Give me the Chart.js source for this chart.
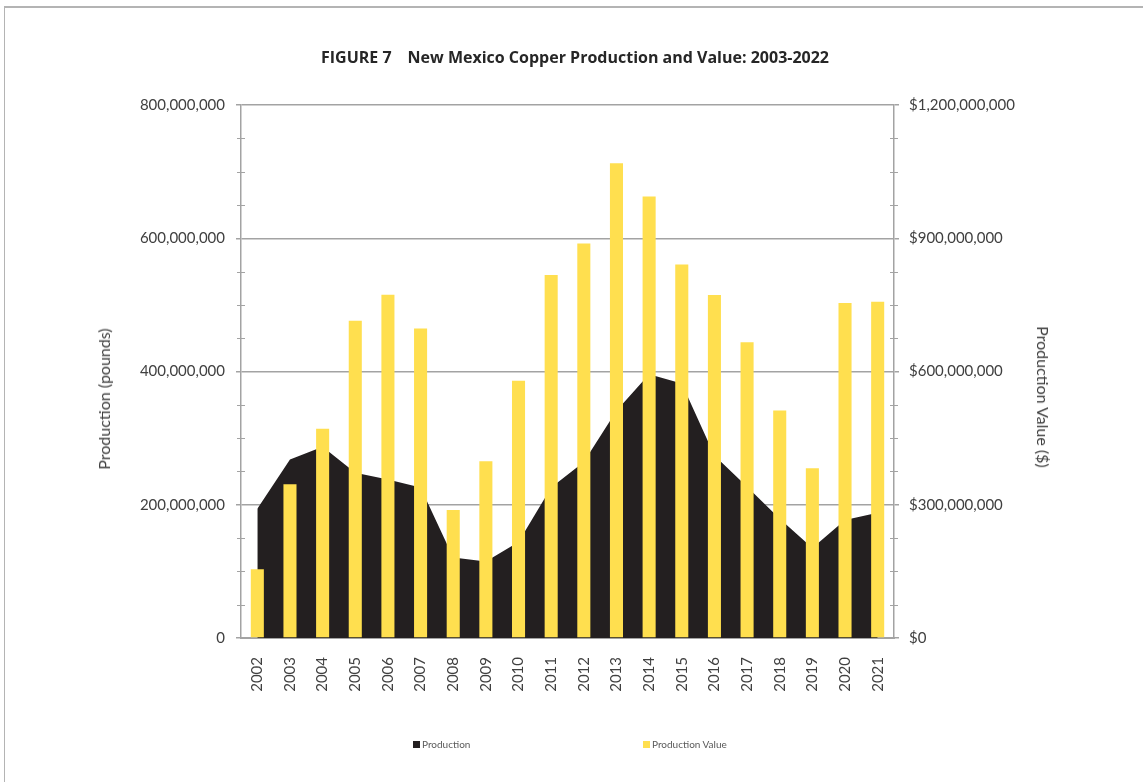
<!DOCTYPE html>
<html>
<head>
<meta charset="utf-8">
<title>New Mexico Copper Production and Value</title>
<script src="https://cdn.jsdelivr.net/npm/chart.js@4.4.1/dist/chart.umd.min.js"></script>
<style>
  html, body { margin: 0; padding: 0; background: #fff; }
  #page { position: relative; width: 1143px; height: 782px; overflow: hidden; font-family: Lato, "Open Sans", sans-serif; }
  #frame { position: absolute; left: 4px; top: 6px; width: 1150px; height: 800px; border-top: 2px solid #b4b4b4; border-left: 1px solid #b4b4b4; }
  #chart { position: absolute; left: 0; top: 0; }
  #title { position: absolute; top: 46px; left: 321px; font-family: "Open Sans", Lato, sans-serif; font-weight: bold; font-size: 16px; color: #262626; white-space: nowrap; }
  #title .gap { display: inline-block; width: 16px; }
  .axis-title { position: absolute; font-size: 16px; color: #404040; white-space: nowrap; line-height: 18px; }
  .legend { position: absolute; top: 737px; font-size: 10px; color: #595959; white-space: nowrap; line-height: 14px; }
  .legend i { display: inline-block; width: 7px; height: 7px; margin-right: 2px; vertical-align: 0px; }
</style>
</head>
<body>
<div id="page">
  <div id="frame"></div>
  <canvas id="chart" width="1143" height="782"></canvas>
  <div id="title">FIGURE 7<span class="gap"></span>New Mexico Copper Production and Value: 2003-2022</div>
  <div class="axis-title" style="left:104px; top:399px; transform: translate(-50%,-50%) rotate(-90deg);">Production (pounds)</div>
  <div class="axis-title" style="left:1043px; top:397px; transform: translate(-50%,-50%) rotate(90deg);">Production Value ($)</div>
  <div class="legend" style="left:413px"><i style="background:#231f20"></i>Production</div>
  <div class="legend" style="left:643px"><i style="background:#ffdf4f"></i>Production Value</div>
</div>
<script>
// Calendar years on the category axis
const years = ['2002','2003','2004','2005','2006','2007','2008','2009','2010','2011',
               '2012','2013','2014','2015','2016','2017','2018','2019','2020','2021'];

// Copper production, pounds
const productionPounds = [
  194e6, 268e6, 287e6, 248e6, 238e6, 226e6, 121e6, 115e6, 144e6, 226e6,
  264e6, 341e6, 396e6, 382e6, 274e6, 227e6, 179e6, 135e6, 177e6, 188e6
];

// Production value, dollars
const productionValue = [
  155e6, 346e6, 471e6, 714e6, 773e6, 697e6, 288e6, 398e6, 579e6, 817e6,
  888e6, 1069e6, 994e6, 841e6, 772e6, 666e6, 512e6, 382e6, 754e6, 757e6
];

// Axis ranges and steps
const poundsAxis = { min: 0, max: 800e6, step: 200e6, minorDivisions: 4 };
const dollarAxis = { min: 0, max: 1200e6, step: 300e6, minorDivisions: 4 };

const AXIS_GRAY = '#a3a3a3';
const TEXT_GRAY = '#404040';
const FONT = { family: 'Lato, "Open Sans", sans-serif', size: 15 };

// Minor tick marks that straddle each vertical axis line
const minorTicks = {
  id: 'minorTicks',
  afterDatasetsDraw(chart) {
    const ctx = chart.ctx;
    ctx.save();
    ctx.strokeStyle = AXIS_GRAY;
    ctx.lineWidth = 1;
    [['y', poundsAxis], ['y1', dollarAxis]].forEach(([id, cfg]) => {
      const scale = chart.scales[id];
      const x = id === 'y' ? scale.right : scale.left;
      const minor = cfg.step / cfg.minorDivisions;
      for (let v = cfg.min + minor; v < cfg.max; v += minor) {
        if (Math.abs(v / cfg.step - Math.round(v / cfg.step)) < 1e-6) continue;
        const py = Math.round(scale.getPixelForValue(v)) + 0.5;
        ctx.beginPath();
        ctx.moveTo(x - 4, py);
        ctx.lineTo(x + 4, py);
        ctx.stroke();
      }
    });
    ctx.restore();
  }
};

new Chart(document.getElementById('chart'), {
  type: 'bar',
  data: {
    labels: years,
    datasets: [
      {
        type: 'line',
        label: 'Production',
        data: productionPounds,
        yAxisID: 'y',
        fill: 'origin',
        backgroundColor: '#231f20',
        borderColor: '#231f20',
        borderWidth: 0,
        pointRadius: 0,
        tension: 0,
        order: 2
      },
      {
        type: 'bar',
        label: 'Production Value',
        data: productionValue,
        yAxisID: 'y1',
        backgroundColor: '#ffdf4f',
        barPercentage: 0.4,
        categoryPercentage: 1.0,
        order: 1
      }
    ]
  },
  options: {
    responsive: false,
    animation: false,
    layout: { padding: { top: 105, left: 0, right: 0, bottom: 0 } },
    plugins: {
      legend: { display: false },
      tooltip: { enabled: false },
      title: { display: false }
    },
    scales: {
      x: {
        offset: true,
        grid: { display: false },
        border: { display: true, color: AXIS_GRAY, width: 2 },
        ticks: {
          minRotation: 90, maxRotation: 90, padding: 11,
          color: TEXT_GRAY, font: FONT, autoSkip: false
        },
        afterFit(scale) { scale.height = 144; }
      },
      y: {
        position: 'left',
        min: poundsAxis.min, max: poundsAxis.max,
        grid: { color: AXIS_GRAY, lineWidth: 1.5, tickLength: 5 },
        border: { display: true, color: AXIS_GRAY, width: 1.5 },
        ticks: {
          stepSize: poundsAxis.step, padding: 11, color: TEXT_GRAY, font: FONT,
          callback: v => Number(v).toLocaleString('en-US')
        },
        afterFit(scale) { scale.width = 241; }
      },
      y1: {
        position: 'right',
        min: dollarAxis.min, max: dollarAxis.max,
        grid: { drawOnChartArea: false, color: AXIS_GRAY, lineWidth: 1.5, tickLength: 5 },
        border: { display: true, color: AXIS_GRAY, width: 1.5 },
        ticks: {
          stepSize: dollarAxis.step, padding: 10, color: TEXT_GRAY, font: FONT,
          callback: v => '$' + Number(v).toLocaleString('en-US')
        },
        afterFit(scale) { scale.width = 249; }
      }
    }
  },
  plugins: [minorTicks]
});
</script>
</body>
</html>
